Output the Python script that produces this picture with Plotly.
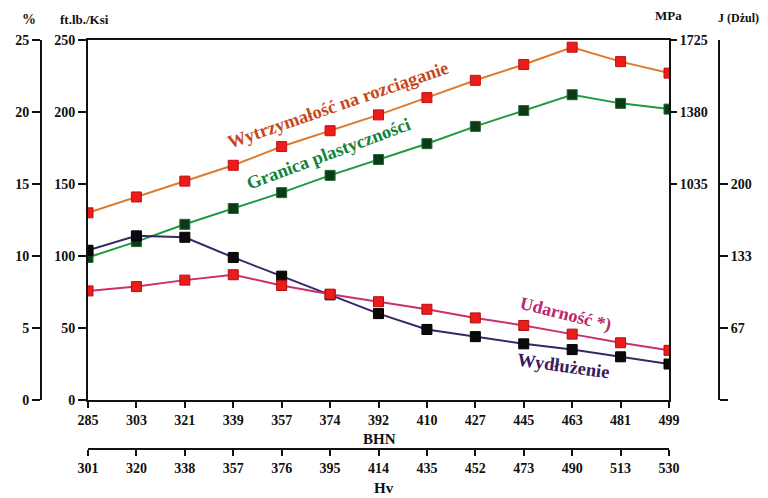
import plotly.graph_objects as go

# ---- data ----
bhn = ["285", "303", "321", "339", "357", "374", "392", "410", "427", "445", "463", "481", "499"]
hv = ["301", "320", "338", "357", "376", "395", "414", "435", "452", "473", "490", "513", "530"]

tensile_ksi = [130, 141, 152, 163, 176, 187, 198, 210, 222, 233, 245, 235, 227]
yield_ksi = [99, 110, 122, 133, 144, 156, 167, 178, 190, 201, 212, 206, 202]
elongation_pct = [10.4, 11.4, 11.3, 9.9, 8.6, 7.3, 6.0, 4.9, 4.4, 3.9, 3.5, 3.0, 2.5]
impact_j = [101, 105, 111, 116, 106, 98, 91, 84, 76, 69, 61, 53, 46]

left_ticks = [0, 50, 100, 150, 200, 250]
pct_ticks = [0, 5, 10, 15, 20, 25]
mpa_ticks = [1035, 1380, 1725]
j_tickvals = [0, 200 / 3, 400 / 3, 200]
j_ticktext = ["", "67", "133", "200"]

FONT = "Liberation Serif"
# the page body has an 8px margin; the figure is sized to fill the rest of the window
OFF = 8
W, H = 768 - OFF, 498 - OFF


def fx(px):
    return (px - OFF) / W


def fy(py):
    return 1 - (py - OFF) / H


fig = go.Figure()

fig.add_trace(go.Scatter(
    x=bhn, y=yield_ksi, mode="lines+markers", name="Granica plastyczności",
    line=dict(color="#1f9a3e", width=2),
    marker=dict(symbol="square", size=10, color="#0c3a18", line=dict(color="#1f6a2e", width=1)),
    xaxis="x", yaxis="y"))
fig.add_trace(go.Scatter(
    x=bhn, y=tensile_ksi, mode="lines+markers", name="Wytrzymałość na rozciąganie",
    line=dict(color="#de7a2a", width=2),
    marker=dict(symbol="square", size=10, color="#ec1c1c", line=dict(color="#c01010", width=1)),
    xaxis="x", yaxis="y"))
fig.add_trace(go.Scatter(
    x=bhn, y=elongation_pct, mode="lines+markers", name="Wydłużenie",
    line=dict(color="#3c2466", width=2),
    marker=dict(symbol="square", size=10, color="#0a0a0a", line=dict(color="#000000", width=1)),
    xaxis="x", yaxis="y2"))
fig.add_trace(go.Scatter(
    x=bhn, y=impact_j, mode="lines+markers", name="Udarność",
    line=dict(color="#c8306e", width=2),
    marker=dict(symbol="square", size=10, color="#ec1c1c", line=dict(color="#b01010", width=1)),
    xaxis="x", yaxis="y4"))
fig.add_trace(go.Scatter(
    x=list(range(len(hv))), y=[None] * len(hv), mode="markers", showlegend=False,
    hoverinfo="skip", xaxis="x2", yaxis="y"))
fig.add_trace(go.Scatter(x=[bhn[0]], y=[None], mode="markers", showlegend=False,
                         hoverinfo="skip", xaxis="x", yaxis="y3"))

tickfont = dict(family=FONT, size=14, color="#111111")
axcommon = dict(showline=True, linecolor="#111111", linewidth=2, ticks="outside",
                tickcolor="#111111", tickwidth=2, showgrid=False, zeroline=False,
                tickfont=tickfont, fixedrange=True, automargin=False)

dom_x = [fx(88), fx(669)]
dom_y = [fy(400), fy(40)]

fig.update_layout(
    width=W, height=H, autosize=False,
    margin=dict(l=0, r=0, t=0, b=0, pad=0, autoexpand=False),
    paper_bgcolor="white", plot_bgcolor="white",
    showlegend=False,
    font=dict(family=FONT, color="#111111"),
    xaxis=dict(type="category", domain=dom_x, range=[0, len(bhn) - 1], anchor="y",
               mirror=True, ticklen=6, tickvals=bhn, ticktext=[f"<b>{t}</b>" for t in bhn], **axcommon),
    xaxis2=dict(domain=dom_x, range=[0, len(hv) - 1], overlaying="x", anchor="free",
                position=fy(449), side="bottom", ticklen=6,
                tickvals=list(range(len(hv))), ticktext=[f"<b>{t}</b>" for t in hv], **axcommon),
    yaxis=dict(domain=dom_y, range=[0, 250], anchor="x", side="left", ticklen=8,
               tickvals=left_ticks, ticktext=[f"<b>{t}</b>" for t in left_ticks], **axcommon),
    yaxis2=dict(range=[0, 25], overlaying="y", anchor="free", position=fx(41), side="left",
                ticklen=8, tickvals=pct_ticks, ticktext=[f"<b>{t}</b>" for t in pct_ticks], **axcommon),
    yaxis3=dict(range=[0, 1725], overlaying="y", anchor="x", side="right", ticklen=6,
                tickvals=mpa_ticks, ticktext=[f"<b>{t}</b>" for t in mpa_ticks], **axcommon),
    yaxis4=dict(range=[0, 1000 / 3], overlaying="y", anchor="free", position=fx(719), side="right",
                ticklen=8, tickvals=j_tickvals, ticktext=[f"<b>{t}</b>" if t else "" for t in j_ticktext],
                **axcommon),
)


def ann(text, cx, cy, size, color, angle=0):
    fig.add_annotation(text=text, x=fx(cx), y=fy(cy), xref="paper", yref="paper",
                       showarrow=False, textangle=angle, xanchor="center", yanchor="middle",
                       font=dict(family=FONT, size=size, color=color))


ann("<b>%</b>", 29, 19, 14, "#111111")
ann("<b>ft.lb./Ksi</b>", 84, 19, 13, "#111111")
ann("<b>MPa</b>", 668, 16, 13, "#111111")
ann("<b>J (Dżul)</b>", 738, 18, 12, "#111111")
ann("<b>BHN</b>", 379, 439, 15, "#111111")
ann("<b>Hv</b>", 384, 488, 15, "#111111")

ann("<b>Wytrzymałość na rozciąganie</b>", 338, 105, 18.5, "#c8481c", -19)
ann("<b>Granica plastyczności</b>", 328, 154, 18.5, "#13823a", -20.5)
ann("<b>Udarność *)</b>", 566, 314, 18, "#b8286a", 14)
ann("<b>Wydłużenie</b>", 563, 366, 18.5, "#3a1c5e", 8)

fig.write_html("out.html")
